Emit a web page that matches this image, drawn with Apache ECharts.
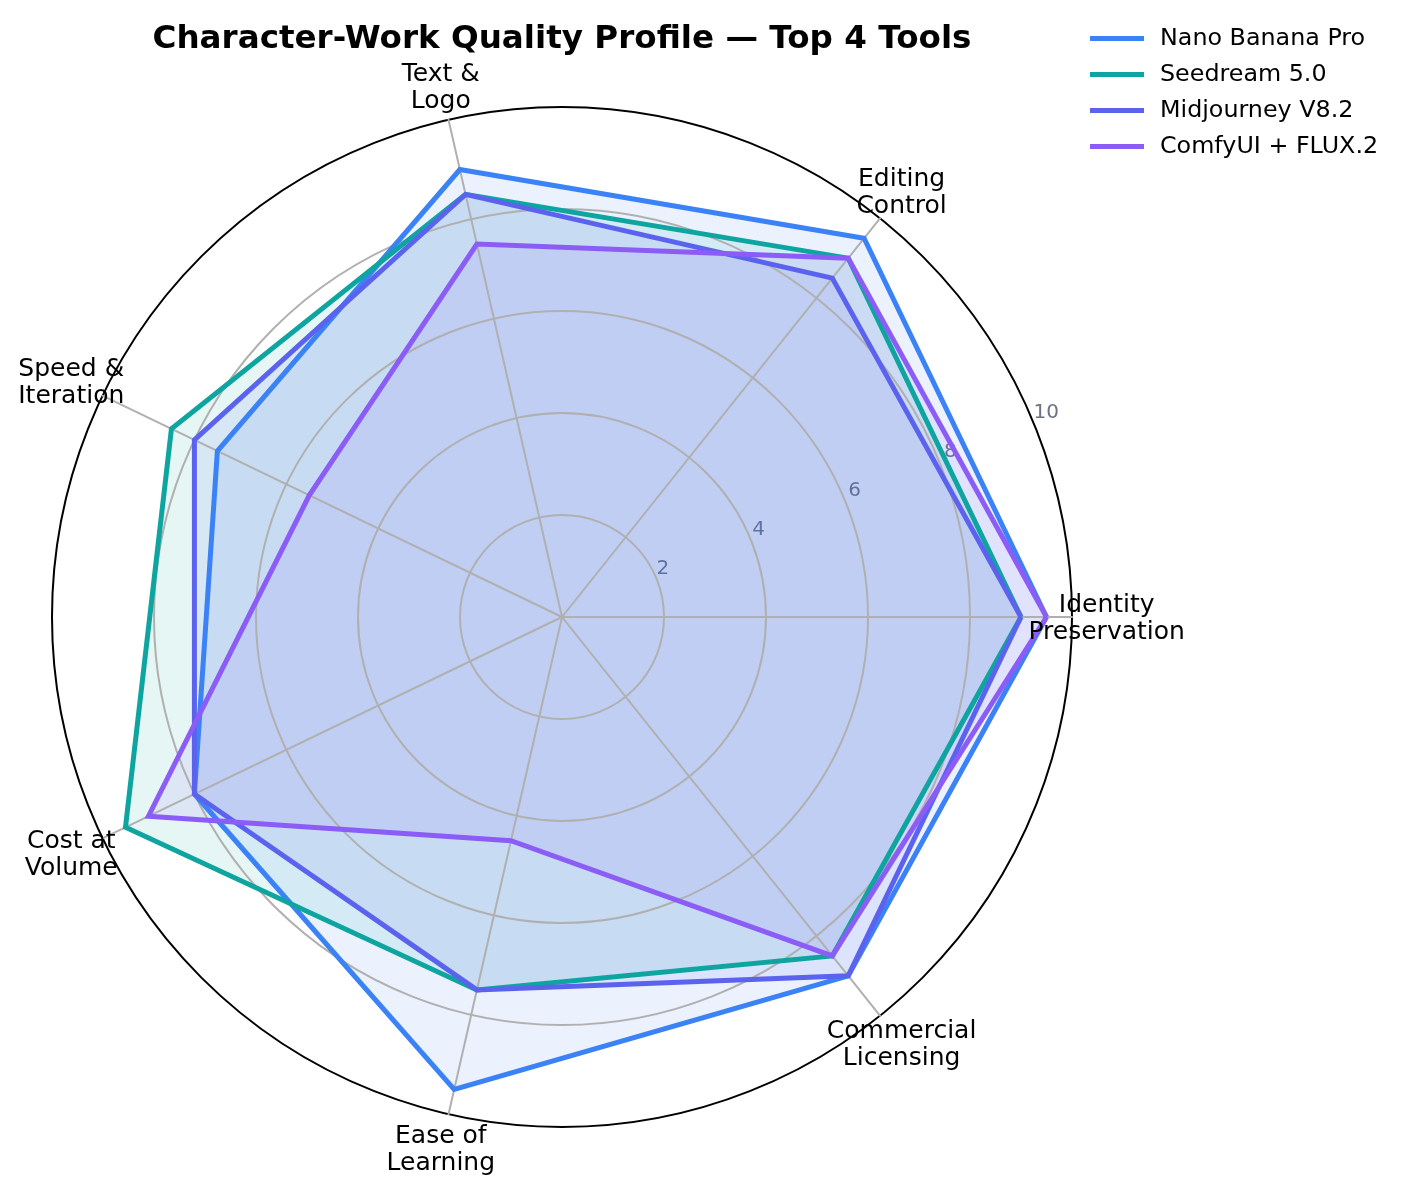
<!DOCTYPE html>
<html lang="en">
<head>
<meta charset="UTF-8">
<title>Character-Work Quality Profile</title>
<style>
    * { margin: 0; padding: 0; }
    body { background: #fff; }
    #chart { width: 1405px; height: 1193px; }
</style>
<script src="https://cdn.jsdelivr.net/npm/echarts@6/dist/echarts.min.js"></script>
</head>
<body>
<div id="chart"></div>
<script>
var categories = ['Identity\nPreservation', 'Editing\nControl', 'Text &\nLogo', 'Speed &\nIteration', 'Cost at\nVolume', 'Ease of\nLearning', 'Commercial\nLicensing'];
var nanoBanana = [9.5, 9.5, 9, 7.5, 8, 9.5, 9];
var seedream = [9, 9, 8.5, 8.5, 9.5, 7.5, 8.5];
var midjourney = [9, 8.5, 8.5, 8, 8, 7.5, 9];
var comfyFlux = [9.5, 9, 7.5, 5.5, 9, 4.5, 8.5];
var tickLabels = [2, 4, 6, 8, 10];
var toolNames = ['Nano Banana Pro', 'Seedream 5.0', 'Midjourney V8.2', 'ComfyUI + FLUX.2'];
var toolColors = ['#3b82f6', '#0ea5a0', '#5b63ee', '#8b5cf6'];

var cx = 562, cy = 617, R = 510;
var font = '"DejaVu Sans", sans-serif';
var chart = echarts.init(document.getElementById('chart'));

// radar axis names can't be centred on the spoke, so they go in as graphic text
var graphics = categories.map(function (name, i) {
    var a = i * 2 * Math.PI / categories.length;
    return {
        type: 'text', z: 10,
        x: cx + R * 1.068 * Math.cos(a),
        y: cy - R * 1.068 * Math.sin(a) + 2,
        style: { text: name, fill: '#000', font: '25px ' + font, align: 'center', verticalAlign: 'middle', lineHeight: 27 }
    };
});
// tick labels sit along 22.5deg like the original
tickLabels.forEach(function (t) {
    var r = R * t / 10, a = 22.5 * Math.PI / 180;
    graphics.push({
        type: 'text', z: 0,
        x: cx + r * Math.cos(a) + 5 + t * 0.8,
        y: cy - r * Math.sin(a) - 9,
        style: { text: String(t), fill: '#6b7280', font: '20px ' + font, align: 'center', verticalAlign: 'middle' }
    });
});

var seriesValues = [nanoBanana, seedream, midjourney, comfyFlux];

chart.setOption({
    animation: false,
    backgroundColor: '#fff',
    title: {
        text: 'Character-Work Quality Profile — Top 4 Tools',
        left: 557, top: 18, textAlign: 'center',
        textStyle: { fontFamily: font, fontWeight: 'bold', fontSize: 32.6, color: '#000' }
    },
    legend: {
        orient: 'vertical', left: 1085, top: 19, itemWidth: 54, itemHeight: 5, itemGap: 7,
        icon: 'rect', data: toolNames,
        textStyle: { fontFamily: font, fontSize: 23.8, color: '#000', padding: [0, 0, 0, 11], lineHeight: 29 }
    },
    radar: {
        z: 2,
        center: [cx, cy], radius: R, startAngle: 0, splitNumber: 5,
        shape: 'circle',
        indicator: categories.map(function () { return { max: 10, min: 0 }; }),
        axisName: { show: false },
        axisLine: { lineStyle: { color: '#b0b0b0', width: 2 } },
        axisTick: { show: false },
        axisLabel: { show: false },
        splitArea: { show: false },
        splitLine: { lineStyle: { color: ['#b0b0b0', '#b0b0b0', '#b0b0b0', '#b0b0b0', '#b0b0b0', '#000'], width: 2 } }
    },
    // fills under the grid, outlines over it
    series: [{
        type: 'radar', z: 1, symbol: 'none',
        data: toolNames.map(function (name, i) {
            return {
                name: name,
                value: seriesValues[i],
                lineStyle: { width: 0, opacity: 0 },
                itemStyle: { color: toolColors[i] },
                areaStyle: { color: toolColors[i], opacity: 0.1 }
            };
        })
    }, {
        type: 'radar', z: 3, symbol: 'none',
        data: toolNames.map(function (name, i) {
            return {
                name: name,
                value: seriesValues[i],
                lineStyle: { color: toolColors[i], width: 5, join: 'miter', opacity: 1 },
                itemStyle: { color: toolColors[i] }
            };
        })
    }],
    graphic: graphics
});
</script>
</body>
</html>
